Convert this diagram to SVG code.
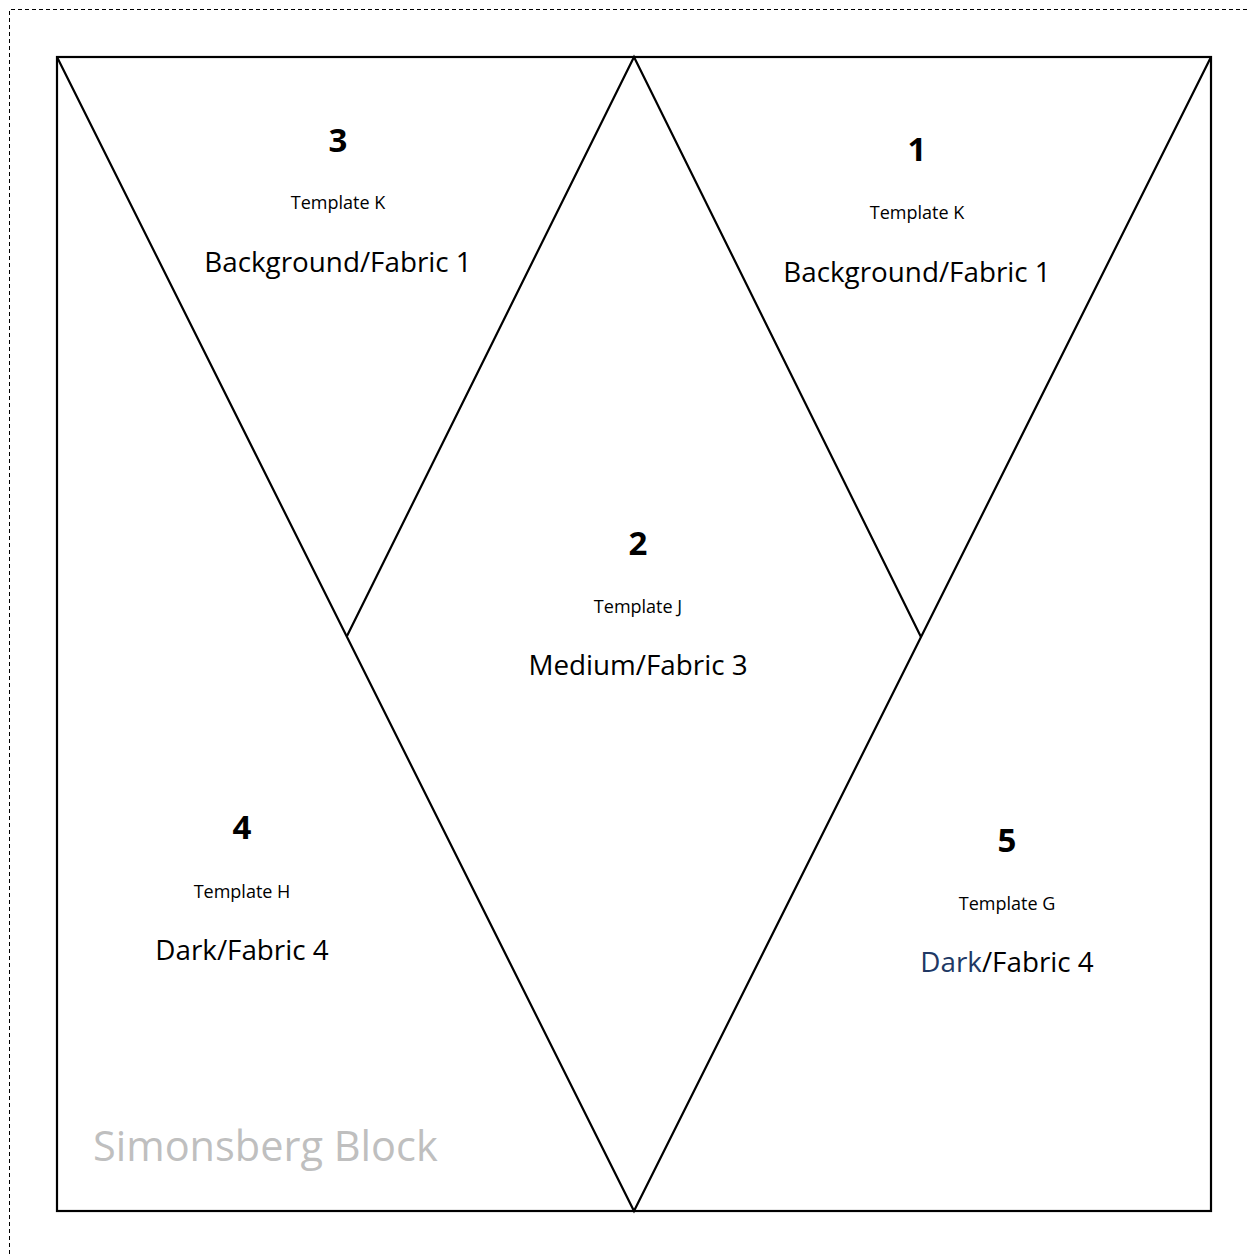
<svg xmlns="http://www.w3.org/2000/svg" width="1249" height="1254" viewBox="0 0 1249 1254">
<style>
.ln{stroke:#000;stroke-width:2.2;fill:none;stroke-linejoin:miter}
.num{font-family:"Open Sans",sans-serif;font-weight:bold;font-size:33px;text-anchor:middle;fill:#000}
.tpl{font-family:"Open Sans",sans-serif;font-size:18px;text-anchor:middle;fill:#000}
.fab{font-family:"Open Sans",sans-serif;font-size:27.8px;text-anchor:middle;fill:#000}
.ttl{font-family:"Open Sans",sans-serif;font-size:41.5px;fill:#bfbfbf}
</style>
<rect width="1249" height="1254" fill="#fff"/>
<path d="M9.5 1254 V9.5 H1249" fill="none" stroke="#000" stroke-width="1" stroke-dasharray="4,3"/>
<g id="connectors">
<rect class="ln" x="57" y="57" width="1154" height="1154"/>
<path class="ln" d="M57 57 L634 1211 L1211 57"/>
<path class="ln" d="M347 636 L634 57 L921 637"/>
</g>
<g id="piece3"><text class="num" x="338" y="152">3</text><text class="tpl" x="338" y="209">Template K</text><text class="fab" x="338" y="272">Background/Fabric 1</text></g>
<g id="piece1"><text class="num" x="917" y="161">1</text><text class="tpl" x="917" y="219">Template K</text><text class="fab" x="917" y="282">Background/Fabric 1</text></g>
<g id="piece2"><text class="num" x="638" y="555">2</text><text class="tpl" x="638" y="613">Template J</text><text class="fab" x="638" y="675">Medium/Fabric 3</text></g>
<g id="piece4"><text class="num" x="242" y="839">4</text><text class="tpl" x="242" y="898">Template H</text><text class="fab" x="242" y="960">Dark/Fabric 4</text></g>
<g id="piece5"><text class="num" x="1007" y="852">5</text><text class="tpl" x="1007" y="910">Template G</text><text class="fab" x="1007" y="972"><tspan fill="#203864">Dark</tspan>/Fabric 4</text></g>
<g id="title"><text class="ttl" x="93" y="1161">Simonsberg Block</text></g>
</svg>
